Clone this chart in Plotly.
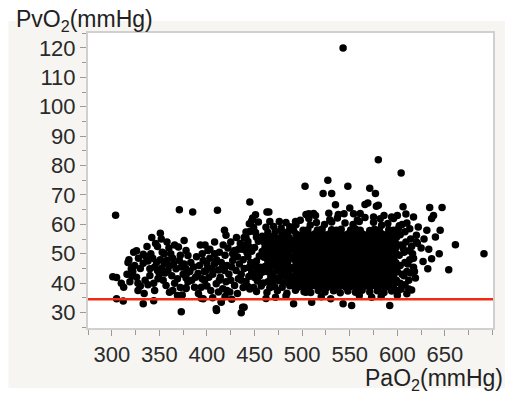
import plotly.graph_objects as go

# ---------------- data ----------------
threshold_pvo2 = 34.5

x_tick_vals = [300, 350, 400, 450, 500, 550, 600, 650]
x_tick_text = ["300", "350", "400", "450", "500", "550", "600", "650"]
x_minor_vals = [275, 325, 375, 425, 475, 525, 575, 625, 675, 700]
y_tick_vals = [30, 40, 50, 60, 70, 80, 90, 100, 110, 120]
y_tick_text = ["30", "40", "50", "60", "70", "80", "90", "100", "110", "120"]
y_minor_vals = [25, 35, 45, 55, 65, 75, 85, 95, 105, 115, 125]

# sparse / outlying points
sparse_pts = [
    (543, 120), (580, 82), (604, 77.5), (503, 73), (527, 75), (548, 73), (571, 72.3),
    (522, 70.5), (531, 70.5), (577, 70.5), (535, 66.7), (569, 67.3), (580, 66.5),
    (550, 65.6), (544, 63.6), (561, 63.7), (493, 61), (504, 63.4), (512, 63.7),
    (445, 67.6), (411, 64.8), (385, 64.2), (371, 65), (304, 63.1), (465, 64.2),
    (451, 63.3), (448, 62.2), (476, 61), (606, 66), (634, 65.7), (647, 65.7),
    (638, 63), (636, 62), (617, 62.5), (596, 62), (622, 59.1), (631, 58), (645, 58),
    (640, 55.7), (620, 56.3), (621, 53.6), (661, 53.1), (691, 50), (644, 50),
    (636, 48.3), (627, 47.4), (632, 44.9), (654, 44.6), (619, 41.8), (615, 37.7),
    (610, 36.4), (601, 37.5), (373, 30.3), (436, 29.9), (410, 30.7), (333, 33),
    (344, 34), (394, 34.9), (415, 33.8), (439, 31.8), (305, 34.7), (312, 33.9),
    (491, 33), (510, 33.5), (543, 33), (552, 32.4), (530, 34.7), (504, 36.9),
    (592, 32.4), (472, 35.2), (573, 35.2), (566, 66.8), (578, 66.2), (507, 63.6),
    (514, 63), (528, 63.8), (538, 63.4), (554, 63.6), (575, 62.5), (586, 63),
    (594, 62.5), (463, 64.2), (483, 35.6), (520, 35.4), (560, 35.8), (583, 35.5),
    (600, 35.9), (462, 34.8), (625, 52), (633, 51.5), (628, 55),
]

# left cluster, PaO2 300-390
left_pts = [
    (301, 42.2), (305, 41.9), (310, 40), (326, 51), (333, 49.8), (341, 50), (355, 50),
    (362, 50), (378, 51.1), (380, 49.4), (318, 48), (333, 46.8), (371, 47.7),
    (320.5, 44.9), (322, 44), (340, 44.9), (348, 44.3), (359, 44.3), (367.5, 44.9),
    (378, 44.9), (326, 42), (340, 42.6), (348.5, 41.5), (369, 41.5), (378, 41.8),
    (312.5, 38.6), (327.5, 40), (357, 39.2), (378, 38.4), (327.5, 37.5), (360.6, 36.9),
    (369, 35.8), (351, 57), (348, 52.5), (370, 52.3), (343, 48.5), (347, 47), (351, 48),
    (355, 46.5), (358, 47.8), (345, 45.5), (352, 45), (356, 43.5), (350, 43), (361, 46),
    (364, 48.5), (353, 50.5), (338, 47.5), (336, 49), (365, 46.5), (363, 42.5),
    (373, 45.5), (375, 43), (372, 49.5), (383, 47), (382, 44), (384, 41), (330, 45),
    (324, 46), (321, 42.5), (319, 40.5), (335, 41), (330, 39), (338, 39.5), (344, 40),
    (354, 41), (366, 40), (372, 38.5), (316, 43), (328, 48.5), (323, 50.5), (346, 53.5),
    (358, 54), (366, 53), (376, 54.5), (352, 55), (342, 55.5), (337, 52.5), (360, 52),
    (317, 47), (334, 36.5), (364, 37.5), (345, 37.5), (374, 36), (380, 40.5),
    (376, 46.5), (379, 43.5), (390.6, 43.3), (378, 38.2),
]

# middle cluster, PaO2 385-440
mid_pts = [
    (418.4, 58), (420, 56.3), (408, 54), (401, 51.1), (413, 50.5), (425, 54), (429, 51.1),
    (396, 47.7), (399, 44.3), (408, 46.6), (418.4, 44.3), (427, 47.7), (430.6, 44.3),
    (387, 38.6), (397.5, 40.9), (409.7, 39.8), (416.6, 38.1), (429, 39.2), (396, 34.7),
    (415, 33.5), (437.5, 31.8), (409.7, 31.3), (441, 57.4), (444.5, 60.2),
    (394, 38.6), (392, 46), (389, 49), (395, 50), (398, 53), (403, 48.5),
    (405, 45), (402, 42), (406, 43), (410, 48), (412, 44.5), (414, 42), (415, 47),
    (419, 49.5), (421, 46), (423, 43), (425, 41), (427, 50), (432, 49), (434, 46.5),
    (436, 43), (433, 41.5), (438, 48), (437, 51.5), (435, 53.5), (422, 52), (417, 53),
    (400, 39), (404, 37.5), (412, 37), (420, 40.5), (424, 37), (432, 36.5), (438, 38.5),
    (436, 41), (426, 34.5), (419, 35.5), (406, 35), (391, 36.5), (388, 42), (386, 45.5),
    (400, 46.5), (408, 50), (416, 45), (439, 45), (440, 53), (393, 53), (397, 44),
    (421, 37.5), (413, 41), (426, 45.5), (433, 51.5), (439, 55.5), (403, 51.5),
    (395, 41.5), (431, 55.5),
]

# dense band, PaO2 440-490
dense_pts = [
    (452, 37.2), (463, 36.8), (474, 37.4), (484, 36.6), (445, 38),
    (443, 38.9), (449, 38.5), (457, 39), (466, 38.4), (471, 38.9), (479, 38.6), (487, 39.1),
    (441, 40.6), (453, 40.7), (459, 40.1), (464, 40.5), (469, 40.3),
    (476, 40.8), (482, 40.2), (488, 40.6),
    (444, 42.3), (450, 41.9), (455, 42.4), (467, 42.2), (472, 41.8),
    (478, 42.4), (484, 42), (489, 42.3),
    (447, 43.6), (453, 44.1), (458, 43.7), (463, 44), (469, 43.5),
    (474, 44.1), (480, 43.7), (486, 44),
    (444, 45.3), (450, 45.8), (456, 45.4), (461, 45.7), (466, 45.2), (471, 45.8),
    (477, 45.4), (482, 45.6), (488, 45.3),
    (446, 47), (452, 47.5), (464, 47.4), (469, 47),
    (474, 47.5), (480, 47.1), (485, 47.4),
    (443, 49.1), (455, 49.2), (460, 48.8), (466, 49.1), (471, 48.7),
    (477, 49.2), (483, 48.8), (488, 49),
    (442, 50.4), (447, 50.9), (458, 50.8), (464, 50.4), (470, 50.9),
    (475, 50.5), (481, 50.8), (486, 50.4),
    (444, 52.5), (450, 52.1), (461, 52.2), (467, 52.4), (473, 52),
    (478, 52.5), (484, 52.1), (489, 52.4),
    (443, 54.2), (454, 54.3), (460, 53.9), (465, 54.1), (471, 53.7),
    (476, 54.2), (482, 53.8), (487, 54.1),
    (441, 55.5), (452, 55.6), (458, 56), (463, 55.5), (469, 55.9),
    (475, 55.4), (480, 55.8), (486, 55.6),
    (445, 57.6), (451, 57.2), (464, 57.3), (472, 57.6), (479, 57.2), (485, 57.5),
    (449, 58.9), (462, 59), (470, 59.3), (478, 58.8), (487, 59.2),
    (447, 61.2), (454, 60.8), (466, 61), (483, 60.6),
]

# core, PaO2 490-600
core_pts = [
    (493, 37.6), (502, 37.1), (509, 36.8), (517, 37.5), (524, 37.0), (533, 37.4), (540, 36.7),
    (548, 37.3), (556, 36.9), (563, 37.6), (571, 37.0), (579, 37.4), (586, 36.8), (594, 37.3),
    (491, 39.1), (496, 38.7), (501, 39.0), (506, 38.6), (511, 39.2), (516, 38.8), (521, 39.0),
    (526, 38.5), (531, 39.1), (536, 38.8), (541, 39.2), (546, 38.6), (551, 38.9), (556, 39.1),
    (561, 38.7), (566, 39.0), (571, 38.6), (576, 39.2), (581, 38.8), (586, 39.0), (591, 38.7),
    (596, 39.1),
    (493.5, 40.3), (498.5, 40.7), (503.5, 40.4), (508.5, 40.8), (513.5, 40.3), (518.5, 40.6),
    (523.5, 40.9), (528.5, 40.4), (533.5, 40.7), (538.5, 40.2), (543.5, 40.6), (548.5, 40.8),
    (553.5, 40.3), (558.5, 40.7), (563.5, 40.5), (568.5, 40.9), (573.5, 40.3), (578.5, 40.6),
    (583.5, 40.8), (588.5, 40.4), (593.5, 40.7), (598.5, 40.3),
    (491, 42.3), (496, 41.9), (501, 42.2), (506, 42.0), (511, 41.8), (516, 42.4), (521, 42.1),
    (526, 41.9), (531, 42.3), (536, 42.0), (541, 41.8), (546, 42.2), (551, 42.4), (556, 41.9),
    (561, 42.1), (566, 42.3), (571, 41.8), (576, 42.2), (581, 42.0), (586, 42.4), (591, 41.9),
    (596, 42.2),
    (493.5, 43.9), (498.5, 43.5), (503.5, 43.8), (508.5, 43.6), (513.5, 44.0), (518.5, 43.5),
    (523.5, 43.7), (528.5, 43.9), (533.5, 43.4), (538.5, 43.8), (543.5, 43.6), (548.5, 44.0),
    (553.5, 43.7), (558.5, 43.5), (563.5, 43.9), (568.5, 43.6), (573.5, 43.8), (578.5, 43.4),
    (583.5, 43.7), (588.5, 44.0), (593.5, 43.6), (598.5, 43.8),
    (491, 45.1), (496, 45.5), (501, 45.2), (506, 45.6), (511, 45.3), (516, 45.0), (521, 45.4),
    (526, 45.6), (531, 45.2), (536, 45.5), (541, 45.1), (546, 45.4), (551, 45.7), (556, 45.2),
    (561, 45.5), (566, 45.0), (571, 45.3), (576, 45.6), (581, 45.1), (586, 45.4), (591, 45.6),
    (596, 45.2),
    (493.5, 47.1), (498.5, 46.7), (503.5, 47.0), (508.5, 46.8), (513.5, 47.2), (518.5, 46.9),
    (523.5, 46.6), (528.5, 47.1), (533.5, 46.8), (538.5, 47.0), (543.5, 46.7), (548.5, 47.2),
    (553.5, 46.9), (558.5, 47.1), (563.5, 46.6), (568.5, 46.9), (573.5, 47.2), (578.5, 46.8),
    (583.5, 47.0), (588.5, 46.7), (593.5, 47.1), (598.5, 46.9),
    (491, 48.3), (496, 48.7), (501, 48.4), (506, 48.6), (511, 48.2), (516, 48.5), (521, 48.8),
    (526, 48.3), (531, 48.6), (536, 48.4), (541, 48.7), (546, 48.2), (551, 48.5), (556, 48.8),
    (561, 48.4), (566, 48.6), (571, 48.3), (576, 48.7), (581, 48.5), (586, 48.2), (591, 48.6),
    (596, 48.4),
    (493.5, 50.3), (498.5, 49.9), (503.5, 50.2), (508.5, 50.0), (513.5, 50.4), (518.5, 49.8),
    (523.5, 50.1), (528.5, 50.3), (533.5, 49.9), (538.5, 50.2), (543.5, 50.0), (548.5, 50.4),
    (553.5, 50.1), (558.5, 49.8), (563.5, 50.3), (568.5, 50.0), (573.5, 50.2), (578.5, 49.9),
    (583.5, 50.4), (588.5, 50.1), (593.5, 49.8), (598.5, 50.2),
    (491, 51.5), (496, 51.9), (501, 51.6), (506, 51.8), (511, 51.4), (516, 51.7), (521, 52.0),
    (526, 51.5), (531, 51.8), (536, 51.6), (541, 51.9), (546, 51.4), (551, 51.7), (556, 52.0),
    (561, 51.6), (566, 51.8), (571, 51.5), (576, 51.9), (581, 51.7), (586, 51.4), (591, 51.8),
    (596, 51.6),
    (493.5, 53.5), (498.5, 53.1), (503.5, 53.4), (508.5, 53.2), (513.5, 53.6), (518.5, 53.0),
    (523.5, 53.3), (528.5, 53.5), (533.5, 53.1), (538.5, 53.4), (543.5, 53.2), (548.5, 53.6),
    (553.5, 53.3), (558.5, 53.0), (563.5, 53.5), (568.5, 53.2), (573.5, 53.4), (578.5, 53.1),
    (583.5, 53.6), (588.5, 53.3), (593.5, 53.0), (598.5, 53.4),
    (491, 54.7), (496, 55.1), (501, 54.8), (506, 55.0), (511, 54.6), (516, 54.9), (521, 55.2),
    (526, 54.7), (531, 55.0), (536, 54.8), (541, 55.1), (546, 54.6), (551, 54.9), (556, 55.2),
    (561, 54.8), (566, 55.0), (571, 54.7), (576, 55.1), (581, 54.9), (586, 54.6), (591, 55.0),
    (596, 54.8),
    (493.5, 56.7), (498.5, 56.3), (503.5, 56.6), (508.5, 56.4), (513.5, 56.8), (518.5, 56.2),
    (523.5, 56.5), (528.5, 56.7), (533.5, 56.3), (538.5, 56.6), (543.5, 56.4), (548.5, 56.8),
    (553.5, 56.5), (558.5, 56.2), (563.5, 56.7), (568.5, 56.4), (573.5, 56.6), (578.5, 56.3),
    (583.5, 56.8), (588.5, 56.5), (593.5, 56.2), (598.5, 56.6),
    (491, 57.9), (501, 58.0), (506, 58.2), (516, 58.1), (521, 58.4),
    (531, 58.2), (536, 58.0), (541, 58.3), (551, 58.1), (556, 58.4),
    (561, 58.0), (571, 57.9), (576, 58.3), (581, 58.1), (591, 58.2),
    (596, 58.0),
    (493.5, 59.9), (508.5, 59.8), (515, 60.6), (523.5, 60.0), (531, 60.8),
    (545, 60.5), (553.5, 60.0), (560, 61.0), (575, 60.7),
    (583.5, 59.7), (590, 60.3),
    (498, 61.4), (507, 62.0), (529, 61.6), (537, 62.2), (558, 61.5),
    (566, 62.3), (582, 61.9),
]

# right edge of the core, PaO2 598-620
right_pts = [
    (603, 40), (608, 39.5), (612, 41), (605, 43), (610, 44), (614, 43.5), (603, 46),
    (608, 47), (613, 48), (602, 49.5), (607, 50.5), (612, 51), (616, 50), (604, 53),
    (609, 54), (614, 55), (603, 56.5), (608, 57.5), (613, 58.5), (605, 60), (610, 60.5),
    (601, 58.5), (606, 52), (611, 46.5), (617, 48.5), (600, 44), (604, 38), (599, 41),
    (598, 47), (598, 52), (599, 55.5), (602, 59.5), (618, 44), (612, 38), (607, 42.5),
    (615, 52.5), (609, 63.5), (600, 63), (617, 45.4), (620, 54),
]

all_pts = sparse_pts + left_pts + mid_pts + dense_pts + core_pts + right_pts
pao2 = [p[0] for p in all_pts]
pvo2 = [p[1] for p in all_pts]

# ---------------- figure ----------------
W, H = 507, 394
ML, MR, MT, MB = 88, 12, 33, 66
pw, ph = W - ML - MR, H - MT - MB


def px_x(px):
    return (px - ML) / pw


def px_y(py):
    return (H - MB - py) / ph


fig = go.Figure()
fig.add_trace(go.Scatter(
    x=pao2, y=pvo2, mode="markers",
    marker=dict(color="black", size=7.5, line=dict(width=0)),
    hoverinfo="skip", showlegend=False,
))

fig.add_hline(y=threshold_pvo2, line_color="#f22a12", line_width=2.5)

# beige panel behind the chart, and the white plot area
fig.add_shape(type="rect", xref="paper", yref="paper",
              x0=px_x(8), x1=px_x(507), y0=px_y(388), y1=px_y(21),
              fillcolor="#f6f5f1", line_width=0, layer="below")
fig.add_shape(type="rect", xref="paper", yref="paper",
              x0=0, x1=1, y0=0, y1=1,
              fillcolor="white", line_width=0, layer="below")

font_family = "Liberation Sans, Arial, sans-serif"
axis_common = dict(
    showline=True, linecolor="#d0d0d0", linewidth=2, mirror=True,
    ticks="outside", ticklen=6, tickcolor="#9a9a9a", tickwidth=1,
    showgrid=False, zeroline=False,
    tickfont=dict(family=font_family, size=22, color="#2a2a2a"),
)

fig.update_xaxes(
    range=[275, 700.5], tickmode="array", tickvals=x_tick_vals, ticktext=x_tick_text,
    minor=dict(tickmode="array", tickvals=x_minor_vals, ticks="outside", ticklen=5,
               tickcolor="#9a9a9a", tickwidth=1, showgrid=False),
    **axis_common,
)
fig.update_yaxes(
    range=[24.75, 125.1], tickmode="array", tickvals=y_tick_vals, ticktext=y_tick_text,
    minor=dict(tickmode="array", tickvals=y_minor_vals, ticks="outside", ticklen=4,
               tickcolor="#9a9a9a", tickwidth=1, showgrid=False),
    **axis_common,
)

fig.add_annotation(text="PvO<sub>2</sub>(mmHg)", xref="paper", yref="paper",
                   x=px_x(14), y=px_y(21), xanchor="left", yanchor="middle",
                   showarrow=False, font=dict(family=font_family, size=23, color="#222"))
fig.add_annotation(text="PaO<sub>2</sub>(mmHg)", xref="paper", yref="paper",
                   x=px_x(507), y=px_y(379), xanchor="right", yanchor="middle",
                   showarrow=False, font=dict(family=font_family, size=23, color="#222"))

fig.update_layout(
    width=W, height=H,
    margin=dict(l=ML, r=MR, t=MT, b=MB, pad=0),
    paper_bgcolor="white", plot_bgcolor="white",
    showlegend=False,
)

fig.write_html(
    "out.html",
    config={"displayModeBar": False},
    post_script="document.body.style.margin='0px';document.body.style.overflow='hidden';",
)
